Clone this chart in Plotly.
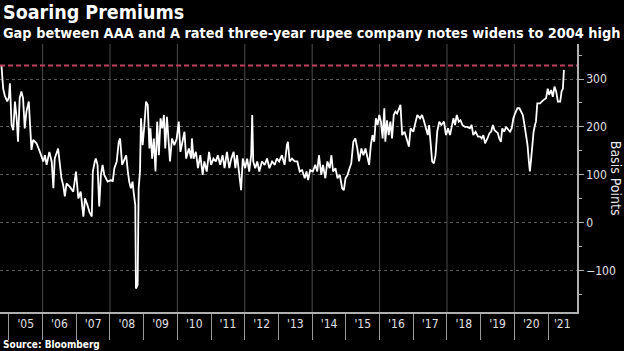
import plotly.graph_objects as go

# Decimal years and spread in basis points
years = [
    2004.78, 2004.83, 2004.88, 2004.95, 2005.00, 2005.03, 2005.08, 2005.13, 2005.18, 2005.23,
    2005.27, 2005.32, 2005.37, 2005.42, 2005.47, 2005.52, 2005.59, 2005.64, 2005.67, 2005.72,
    2005.82, 2005.92, 2006.02, 2006.07, 2006.12, 2006.20, 2006.27, 2006.32, 2006.36, 2006.46,
    2006.51, 2006.56, 2006.61, 2006.66, 2006.71, 2006.81, 2006.91, 2006.99, 2007.06, 2007.13,
    2007.21, 2007.26, 2007.33, 2007.39, 2007.46, 2007.49, 2007.55,
    2007.58, 2007.63, 2007.68, 2007.73, 2007.78, 2007.83, 2007.88, 2007.93, 2008.03, 2008.08,
    2008.13, 2008.20, 2008.26, 2008.30, 2008.36, 2008.43, 2008.48, 2008.53, 2008.57, 2008.62,
    2008.67, 2008.70, 2008.75, 2008.77, 2008.82, 2008.85, 2008.89, 2008.92, 2008.97, 2009.02,
    2009.07, 2009.12, 2009.17, 2009.20, 2009.25, 2009.30, 2009.35, 2009.40, 2009.45, 2009.50,
    2009.55, 2009.60, 2009.64, 2009.69, 2009.74, 2009.78, 2009.84, 2009.91, 2009.98, 2010.04,
    2010.09, 2010.16, 2010.21, 2010.26, 2010.34, 2010.41,
    2010.43, 2010.48, 2010.55, 2010.61, 2010.68, 2010.75, 2010.80, 2010.87, 2010.94, 2011.00,
    2011.07, 2011.14, 2011.20, 2011.27, 2011.34, 2011.40, 2011.47, 2011.54, 2011.60, 2011.67,
    2011.72, 2011.77, 2011.82, 2011.86, 2011.89, 2011.94, 2012.01, 2012.07, 2012.13, 2012.19,
    2012.22, 2012.25, 2012.31, 2012.37, 2012.43, 2012.51, 2012.59, 2012.66, 2012.73, 2012.81,
    2012.89, 2012.95, 2013.02, 2013.10, 2013.18, 2013.25,
    2013.28, 2013.33, 2013.40, 2013.48, 2013.56, 2013.63, 2013.70, 2013.78, 2013.83, 2013.88,
    2013.94, 2014.02, 2014.09, 2014.15, 2014.20, 2014.27, 2014.32, 2014.39, 2014.45, 2014.52,
    2014.57, 2014.62, 2014.69, 2014.75, 2014.82, 2014.89, 2014.94, 2014.99, 2015.05, 2015.11,
    2015.16, 2015.22, 2015.28, 2015.34, 2015.39, 2015.46, 2015.52, 2015.58, 2015.64, 2015.69,
    2015.74, 2015.79, 2015.84, 2015.89, 2015.94, 2015.99, 2016.04, 2016.09, 2016.14,
    2016.17, 2016.22, 2016.27, 2016.32, 2016.37, 2016.42, 2016.47, 2016.52, 2016.57, 2016.62,
    2016.67, 2016.74, 2016.80, 2016.87, 2016.92, 2017.00, 2017.07, 2017.12, 2017.20, 2017.26,
    2017.31, 2017.37, 2017.43, 2017.47, 2017.51, 2017.56, 2017.61, 2017.66, 2017.71, 2017.77,
    2017.83, 2017.91, 2017.97, 2018.03, 2018.09, 2018.14, 2018.19, 2018.24, 2018.29, 2018.35,
    2018.40, 2018.46, 2018.53, 2018.60, 2018.68, 2018.73, 2018.78, 2018.85, 2018.92,
    2018.98, 2019.03, 2019.08, 2019.13, 2019.20, 2019.26, 2019.31, 2019.36, 2019.41, 2019.46,
    2019.51, 2019.55, 2019.60, 2019.64, 2019.70, 2019.75, 2019.82, 2019.87, 2019.92, 2019.97,
    2020.02, 2020.09, 2020.15, 2020.20, 2020.25, 2020.30, 2020.35, 2020.39, 2020.43, 2020.46,
    2020.49, 2020.53, 2020.57, 2020.61, 2020.64, 2020.68, 2020.76, 2020.86, 2020.94, 2020.99,
    2021.03, 2021.09, 2021.14, 2021.19, 2021.24, 2021.29, 2021.36, 2021.40, 2021.44, 2021.47,
]
spread_bp = [
    328, 280, 265, 253, 262, 291, 204, 193, 253, 218,
    169, 260, 274, 260, 197, 232, 253, 169, 152, 173,
    166, 148, 128, 141, 121, 148, 128, 72, 134, 155,
    121, 93, 79, 55, 82, 75, 65, 107, 51, 65,
    13, 51, 37, 23, 13, 107, 128,
    134, 121, 34, 100, 121, 100, 93, 86, 89, 86,
    114, 128, 169, 176, 121, 134, 141, 107, 86, 72,
    86, 65, 37, -137, -130, 72, 107, 218, 162, 204,
    253, 246, 155, 197, 134, 176, 107, 211, 141, 218,
    197, 225, 155, 221, 169, 128, 176, 162, 176, 211,
    148, 169, 190, 134, 155, 134,
    176, 134, 148, 114, 141, 100, 128, 107, 148, 121,
    134, 128, 141, 121, 141, 114, 148, 114, 134, 148,
    114, 141, 107, 93, 68, 134, 114, 134, 107, 141,
    225, 128, 114, 128, 107, 128, 121, 134, 114, 128,
    121, 134, 128, 141, 121, 162,
    169, 128, 134, 128, 128, 107, 110, 93, 107, 89,
    110, 107, 121, 107, 141, 100, 121, 93, 128, 114,
    141, 107, 114, 93, 100, 72, 68, 93, 100, 114,
    124, 169, 176, 155, 128, 155, 141, 155, 134, 121,
    162, 183, 169, 218, 204, 225, 211, 176, 239,
    169, 214, 183, 211, 176, 225, 232, 228, 239, 246,
    183, 190, 176, 159, 197, 190, 211, 225, 218, 225,
    214, 197, 183, 204, 176, 128, 124, 141, 190, 211,
    204, 211, 183, 197, 183, 204, 218, 204, 225, 211,
    214, 204, 200, 200, 197, 204, 183, 190, 180,
    180, 176, 183, 166, 176, 187, 190, 204, 193, 190,
    187, 176, 169, 197, 190, 200, 193, 190, 197, 218,
    228, 239, 239, 232, 225, 204, 183, 162, 128, 107,
    128, 162, 190, 204, 211, 249, 249, 256, 260, 280,
    267, 277, 263, 284, 274, 253, 253, 274, 280, 319,
]

HIGH_2004 = 328  # 2004 high level (red dashed reference)

year_starts = list(range(2005, 2022))
grid_years = list(range(2006, 2021, 2))
label_pos = [y + 0.5 for y in range(2005, 2021)] + [2021.42]
label_text = ["'%02d" % (y % 100) for y in range(2005, 2022)]

X_RANGE = [2004.736, 2021.858]
Y_RANGE = [-186, 373]

font_main = "DejaVu Sans Condensed, DejaVu Sans, sans-serif"

fig = go.Figure()
fig.add_trace(go.Scatter(
    x=years, y=spread_bp, mode="lines",
    line=dict(color="#ffffff", width=1.8),
    hoverinfo="skip", showlegend=False,
))

fig.add_hline(y=HIGH_2004, line=dict(color="#c2405e", width=2, dash="5px,3px"))

for gy in grid_years:
    fig.add_shape(type="line", xref="x", yref="paper", x0=gy, x1=gy, y0=0, y1=1,
                  line=dict(color="#4a4a4a", width=1), layer="below")

fig.update_layout(
    width=624, height=351,
    margin=dict(l=0, r=47, t=44, b=39),
    paper_bgcolor="#000000", plot_bgcolor="#000000",
    font=dict(family=font_main, color="#e6e6e6"),
    xaxis=dict(
        range=X_RANGE, showgrid=False, zeroline=False,
        showline=True, linecolor="#b0b0b0", linewidth=1.5,
        tickmode="array", tickvals=label_pos, ticktext=label_text,
        ticks="", tickfont=dict(size=12, color="#e0e0e0"),
        minor=dict(tickmode="array", tickvals=year_starts, ticks="outside",
                   ticklen=26, tickcolor="#9a9a9a", tickwidth=1, showgrid=False),
    ),
    yaxis=dict(
        range=Y_RANGE, side="right", zeroline=False,
        showline=True, linecolor="#b0b0b0", linewidth=1.5,
        tickmode="array", tickvals=[-100, 0, 100, 200, 300],
        ticks="outside", ticklen=5, tickcolor="#b0b0b0",
        tickfont=dict(size=12, color="#e0e0e0"),
        showgrid=True, gridcolor="#5a5a5a", gridwidth=1, griddash="dot",
        minor=dict(dtick=50, tick0=0, ticks="outside", ticklen=3, tickcolor="#b0b0b0",
                   showgrid=False),
    ),
    annotations=[
        dict(text="<b>Soaring Premiums</b>", xref="paper", yref="paper",
             x=0.002, y=1.116, xanchor="left", yanchor="middle", showarrow=False,
             font=dict(size=19.5, color="#ffffff")),
        dict(text="<b>Gap between AAA and A rated three-year rupee company notes widens to 2004 high</b>",
             xref="paper", yref="paper", x=0.002, y=1.041, xanchor="left", yanchor="middle",
             showarrow=False, font=dict(size=14.4, color="#ffffff")),
        dict(text="<b>Source: Bloomberg</b>", xref="paper", yref="paper",
             x=0.002, y=-0.123, xanchor="left", yanchor="middle", showarrow=False,
             font=dict(size=10, color="#ffffff")),
        dict(text="Basis Points", xref="paper", yref="paper", x=1.068, y=0.5,
             xanchor="center", yanchor="middle", textangle=90, showarrow=False,
             font=dict(size=14, color="#e6e6e6")),
    ],
)

fig.write_html("out.html")
